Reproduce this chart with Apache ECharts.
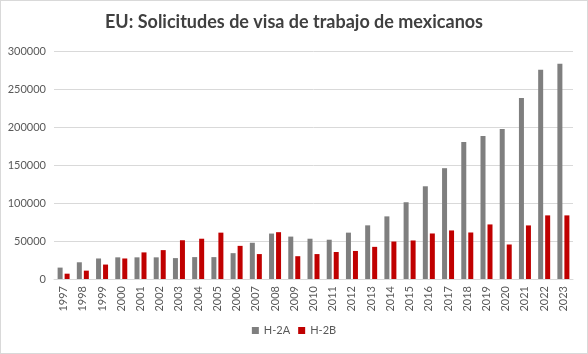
<!DOCTYPE html>
<html>
<head>
<meta charset="utf-8">
<script src="https://cdn.jsdelivr.net/npm/echarts@6/dist/echarts.min.js"></script>
<style>
  html, body { margin: 0; padding: 0; background: #fff; }
  #main { width: 586px; height: 352px; border: 1px solid #d9d9d9; }
</style>
</head>
<body>
<div id="main"></div>
<script>
// datos
var years = ['1997', '1998', '1999', '2000', '2001', '2002', '2003', '2004', '2005', '2006',
    '2007', '2008', '2009', '2010', '2011', '2012', '2013', '2014', '2015', '2016',
    '2017', '2018', '2019', '2020', '2021', '2022', '2023'];
var h2a = [15000, 22000, 27000, 28500, 28500, 28500, 27500, 28800, 28800, 34000,
    47700, 59800, 55800, 53000, 51700, 61000, 70600, 82400, 101000, 122000,
    145800, 180200, 188100, 197300, 238300, 275300, 283200];
var h2b = [7000, 11000, 19000, 27000, 35000, 38000, 51000, 53000, 61000, 43600,
    32800, 61600, 30000, 32800, 35500, 36900, 42300, 49300, 50700, 59900,
    63900, 61200, 71800, 45400, 70500, 83700, 83700];

var myChart = echarts.init(document.getElementById('main'));
var font = 'Lato, "Open Sans", sans-serif';

var option = {
    animation: false,
    textStyle: { fontFamily: font },
    title: {
        text: 'EU: Solicitudes de visa de trabajo de mexicanos',
        left: 'center',
        top: 7,
        textStyle: { fontSize: 18, fontWeight: 'bold', color: '#404040', fontFamily: font }
    },
    legend: {
        bottom: 12,
        left: 'center',
        itemWidth: 7,
        itemHeight: 7,
        itemGap: 8,
        icon: 'rect',
        textStyle: { fontSize: 11, color: '#595959', fontFamily: font },
        data: ['H-2A', 'H-2B']
    },
    grid: { left: 53, right: 14, top: 50, bottom: 74 },
    xAxis: {
        type: 'category',
        data: years,
        axisLine: { lineStyle: { color: '#d9d9d9' } },
        axisTick: { show: false },
        axisLabel: { rotate: 90, color: '#595959', fontSize: 11, margin: 7, interval: 0 }
    },
    yAxis: {
        type: 'value',
        min: 0,
        max: 300000,
        interval: 50000,
        axisLine: { show: false },
        axisTick: { show: false },
        splitLine: { lineStyle: { color: '#d9d9d9' } },
        axisLabel: {
            color: '#595959',
            fontSize: 11,
            margin: 8,
            formatter: function (v) { return String(v); }
        }
    },
    series: [
        {
            name: 'H-2A',
            type: 'bar',
            data: h2a,
            barWidth: 5,
            barGap: '40%',
            itemStyle: { color: '#7f7f7f' }
        },
        {
            name: 'H-2B',
            type: 'bar',
            data: h2b,
            barWidth: 5,
            itemStyle: { color: '#c00000' }
        }
    ]
};

myChart.setOption(option);
</script>
</body>
</html>
